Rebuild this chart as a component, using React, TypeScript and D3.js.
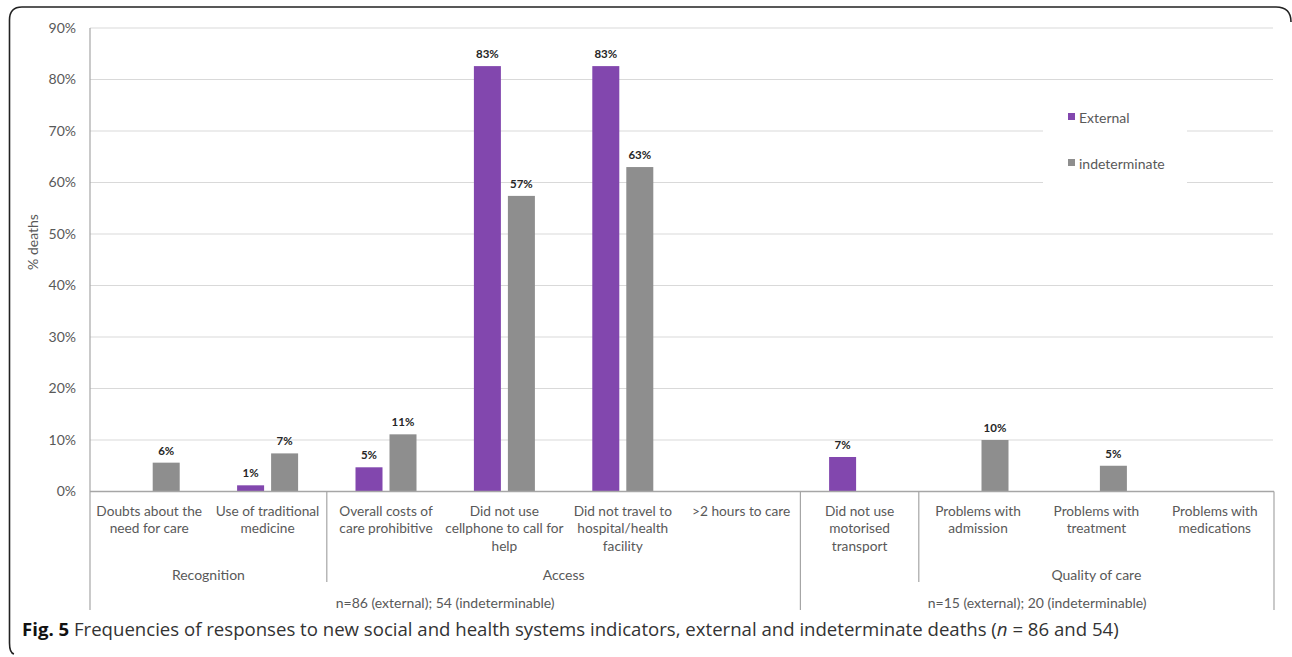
import React from "react";
import * as d3 from "d3";

const categories = [
  "Doubts about the\nneed for care",
  "Use of traditional\nmedicine",
  "Overall costs of\ncare prohibitive",
  "Did not use\ncellphone to call for\nhelp",
  "Did not travel to\nhospital/health\nfacility",
  ">2 hours to care",
  "Did not use\nmotorised\ntransport",
  "Problems with\nadmission",
  "Problems with\ntreatment",
  "Problems with\nmedications",
];
const externalValues: (number | null)[] = [null, 1.2, 4.7, 82.6, 82.6, null, 6.7, null, null, null];
const indeterminateValues: (number | null)[] = [5.6, 7.4, 11.1, 57.4, 63.0, null, null, 10.0, 5.0, null];
const seriesNames = ["External", "indeterminate"];
const yTicks = [0, 10, 20, 30, 40, 50, 60, 70, 80, 90];
const groupLevel2 = [
  { label: "Recognition", start: 0, end: 2 },
  { label: "Access", start: 2, end: 6 },
  { label: "", start: 6, end: 7 },
  { label: "Quality of care", start: 7, end: 10 },
];
const groupLevel3 = [
  { label: "n=86 (external); 54 (indeterminable)", start: 0, end: 6 },
  { label: "n=15 (external); 20 (indeterminable)", start: 6, end: 10 },
];
const yTitle = "% deaths";

const W = 1292;
const H = 657;
const PL = 90;
const PR = 1274;
const Y0 = 491.5;
const Y90 = 28;
const PURPLE = "#8247ae";
const GRAY = "#8e8e8e";
const TXT = "#595959";
const FONT = "Lato, 'Open Sans', sans-serif";

export default function App() {
  const x = d3.scaleBand<number>().domain(d3.range(categories.length)).range([PL, PR]);
  const y = d3.scaleLinear().domain([0, 90]).range([Y0, Y90]);
  const bw = 27;
  const fmt = (v: number) => `${Math.round(v)}%`;
  const cx = (i: number) => (x(i) as number) + x.bandwidth() / 2;
  const edge = (i: number) => (i >= categories.length ? PR : (x(i) as number));

  const bars: { xPos: number; v: number; color: string; key: string }[] = [];
  externalValues.forEach((v, i) => {
    if (v != null) bars.push({ xPos: cx(i) - 30.5, v, color: PURPLE, key: "e" + i });
  });
  indeterminateValues.forEach((v, i) => {
    if (v != null) bars.push({ xPos: cx(i) + 3.5, v, color: GRAY, key: "n" + i });
  });

  const l2Bounds = Array.from(new Set(groupLevel2.flatMap((g) => [g.start, g.end])));
  const l3Bounds = Array.from(new Set(groupLevel3.flatMap((g) => [g.start, g.end])));

  return (
    <svg width={W} height={H} style={{ position: "absolute", left: 0, top: 0, background: "#fff" }}>
      <rect x={0} y={0} width={W} height={H} fill="#fff" />
      {/* frame */}
      <path
        d={`M 1291 22 Q 1291 7 1276 7 L 22 7 Q 9.5 7 9.5 20 L 9.5 643 Q 9.5 653 14 654`}
        fill="none"
        stroke="#222"
        strokeWidth={1.6}
      />
      {/* gridlines */}
      {yTicks.filter((t) => t > 0).map((t) => (
        <line key={t} x1={PL} x2={PR - 1} y1={y(t)} y2={y(t)} stroke="#d9d9d9" strokeWidth={1} />
      ))}
      {/* legend background */}
      <rect x={1043} y={90} width={144} height={100} fill="#fff" />
      {/* y tick labels */}
      {yTicks.map((t) => (
        <text key={t} x={76} y={y(t)} dy="0.35em" textAnchor="end" fontSize={14} fill={TXT} fontFamily={FONT}>
          {t}%
        </text>
      ))}
      <text
        transform={`translate(38,${242}) rotate(-90)`}
        textAnchor="middle"
        fontSize={14}
        fill={TXT}
        fontFamily={FONT}
      >
        {yTitle}
      </text>
      {/* bars */}
      {bars.map((b) => (
        <g key={b.key}>
          <rect x={b.xPos} y={y(b.v)} width={bw} height={Y0 - y(b.v)} fill={b.color} />
          <text
            x={b.xPos + bw / 2}
            y={y(b.v) - 8}
            textAnchor="middle"
            fontSize={11.5}
            fontWeight="bold"
            fill="#262626"
            fontFamily={FONT}
          >
            {fmt(b.v)}
          </text>
        </g>
      ))}
      {/* axes */}
      <line x1={PL} x2={PL} y1={Y90} y2={610} stroke="#a6a6a6" strokeWidth={1.2} />
      <line x1={PL} x2={PR} y1={Y0} y2={Y0} stroke="#a6a6a6" strokeWidth={1.5} />
      {l2Bounds.filter((b) => !l3Bounds.includes(b)).map((b) => (
        <line key={"l2" + b} x1={edge(b)} x2={edge(b)} y1={Y0} y2={582} stroke="#a6a6a6" strokeWidth={1.2} />
      ))}
      {l3Bounds.filter((b) => b > 0).map((b) => (
        <line key={"l3" + b} x1={edge(b)} x2={edge(b)} y1={Y0} y2={610} stroke="#a6a6a6" strokeWidth={1.2} />
      ))}
      {/* category labels */}
      {categories.map((c, i) => (
        <text key={i} textAnchor="middle" fontSize={13.7} fill={TXT} fontFamily={FONT}>
          {c.split("\n").map((line, j) => (
            <tspan key={j} x={cx(i)} y={515.5 + j * 17.6}>
              {line}
            </tspan>
          ))}
        </text>
      ))}
      {groupLevel2.map((g, i) => (
        <text key={i} x={(edge(g.start) + edge(g.end)) / 2} y={580} textAnchor="middle" fontSize={14} fill={TXT} fontFamily={FONT}>
          {g.label}
        </text>
      ))}
      {groupLevel3.map((g, i) => (
        <text key={i} x={(edge(g.start) + edge(g.end)) / 2} y={607.5} textAnchor="middle" fontSize={14} fill={TXT} fontFamily={FONT}>
          {g.label}
        </text>
      ))}
      {/* legend */}
      {seriesNames.map((s, i) => (
        <g key={s}>
          <rect x={1068} y={113 + i * 46} width={7} height={7} fill={i === 0 ? PURPLE : GRAY} />
          <text x={1079} y={118 + i * 46} dy="0.35em" fontSize={14} fill={TXT} fontFamily={FONT}>
            {s}
          </text>
        </g>
      ))}
      {/* caption */}
      <text x={22} y={636} fontSize={18.6} fontFamily="'Open Sans', sans-serif" fill="#333">
        <tspan fontWeight="bold" fill="#111">Fig. 5</tspan>
        <tspan> Frequencies of responses to new social and health systems indicators, external and indeterminate deaths (</tspan>
        <tspan fontStyle="italic">n</tspan>
        <tspan> = 86 and 54)</tspan>
      </text>
    </svg>
  );
}
